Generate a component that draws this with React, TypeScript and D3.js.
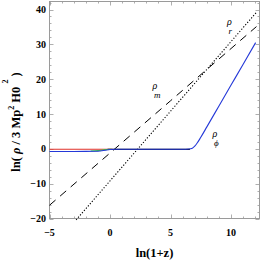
import React, { useEffect, useRef } from 'react';
import * as d3 from 'd3';

// values
const rhoRx = [-2.8, 0, 5, 10, 12.1];
const rhoRy = [-20.4, -9.2, 10.8, 30.8, 39.2];

const rhoMx = [-5, 0, 5, 10, 12.1];
const rhoMy = [-16.2, -1.2, 13.8, 28.8, 35.1];

const rhoPhiX = [-5, -3, -2, -1.2, -0.8, -0.4, 0, 0.5, 2, 4, 6, 6.5, 6.8, 7.0, 7.2, 7.5, 8, 9, 10, 11, 12.03];
const rhoPhiY = [-0.75, -0.75, -0.74, -0.7, -0.6, -0.4, -0.2, -0.12, -0.12, -0.12, -0.12, -0.05, 0.2, 0.77, 1.67, 3.33, 6.3, 12.3, 18.3, 24.3, 30.5];

const redX = [-5, 0.2];
const redY = [-0.12, -0.12];

const greenX = [-1.6, -1.0, -0.5, 0.1];
const greenY = [-0.62, -0.5, -0.3, -0.14];

const blackX = [-0.2, 6.6];
const blackY = [-0.14, -0.14];

const xTicks = [-5, 0, 5, 10];
const yTicks = [-20, -10, 0, 10, 20, 30, 40];

export default function App() {
  const svgRef = useRef<SVGSVGElement>(null);

  useEffect(() => {
    if (!svgRef.current) return;
    const svg = d3.select(svgRef.current);
    svg.selectAll('*').remove();

    const width = 263;
    const height = 263;
    const left = 49.5, right = 259.5, top = 1.5, bottom = 218.5;

    const x = d3.scaleLinear().domain([-5, 12.35]).range([left, right]);
    const y = d3.scaleLinear().domain([-20, 42.3]).range([bottom, top]);

    svg.attr('width', width).attr('height', height);
    svg.append('rect').attr('width', width).attr('height', height).attr('fill', '#fff');

    const font = '"Liberation Serif", "DejaVu Serif", serif';
    const frameColor = '#9a9a9a';

    // frame
    svg.append('rect')
      .attr('x', left).attr('y', top)
      .attr('width', right - left).attr('height', bottom - top)
      .attr('fill', 'none').attr('stroke', frameColor).attr('stroke-width', 1);

    // ticks on all four sides
    const ticks = svg.append('g').attr('stroke', frameColor).attr('stroke-width', 0.8);
    d3.range(-5, 13, 1).forEach((v) => {
      const len = v % 5 === 0 ? 4 : 2;
      const px = Math.round(x(v)) + 0.5;
      ticks.append('line').attr('x1', px).attr('x2', px).attr('y1', bottom).attr('y2', bottom - len);
      ticks.append('line').attr('x1', px).attr('x2', px).attr('y1', top).attr('y2', top + len);
    });
    d3.range(-20, 43, 2).forEach((v) => {
      const len = v % 10 === 0 ? 4 : 2;
      const py = Math.round(y(v)) + 0.5;
      ticks.append('line').attr('x1', left).attr('x2', left + len).attr('y1', py).attr('y2', py);
      ticks.append('line').attr('x1', right).attr('x2', right - len).attr('y1', py).attr('y2', py);
    });

    const fmt = (v: number) => (v < 0 ? '\u2212' + Math.abs(v) : String(v));

    svg.append('g').selectAll('text').data(xTicks).enter().append('text')
      .attr('x', (d) => x(d)).attr('y', 236)
      .attr('text-anchor', 'middle')
      .style('font-family', font).style('font-weight', 'bold').style('font-size', '10px')
      .text(fmt);

    svg.append('g').selectAll('text').data(yTicks).enter().append('text')
      .attr('x', 46).attr('y', (d) => y(d) + 3.5)
      .attr('text-anchor', 'end')
      .style('font-family', font).style('font-weight', 'bold').style('font-size', '10px')
      .text(fmt);

    // axis labels
    svg.append('text')
      .attr('x', 154.5).attr('y', 257)
      .attr('text-anchor', 'middle')
      .style('font-family', font).style('font-weight', 'bold').style('font-size', '12.5px')
      .text('ln(1+z)');

    const yl = svg.append('text')
      .attr('transform', 'translate(20,122) rotate(-90)')
      .attr('text-anchor', 'middle')
      .style('font-family', font).style('font-weight', 'bold').style('font-size', '12.5px');
    yl.append('tspan').text('ln( ');
    yl.append('tspan').style('font-style', 'italic').text('ρ');
    yl.append('tspan').text(' / 3 Mp');
    yl.append('tspan').attr('dy', -6).style('font-size', '8px').text('2');
    yl.append('tspan').attr('dy', 6).text(' H0 ');
    yl.append('tspan').attr('dy', -12).style('font-size', '8px').text('2');
    yl.append('tspan').attr('dy', 12).text(' )');

    const line = d3.line<[number, number]>()
      .x((d) => x(d[0]))
      .y((d) => y(d[1]))
      .curve(d3.curveMonotoneX);

    const zip = (xs: number[], ys: number[]) => xs.map((v, i) => [v, ys[i]] as [number, number]);

    const plot = svg.append('g');

    plot.append('path').attr('d', line(zip(rhoRx, rhoRy)))
      .attr('fill', 'none').attr('stroke', '#000').attr('stroke-width', 1.1)
      .attr('stroke-dasharray', '1.2,1.8');

    plot.append('path').attr('d', line(zip(rhoMx, rhoMy)))
      .attr('fill', 'none').attr('stroke', '#000').attr('stroke-width', 1)
      .attr('stroke-dasharray', '8,6');

    plot.append('path').attr('d', line(zip(redX, redY)))
      .attr('fill', 'none').attr('stroke', '#e0302a').attr('stroke-width', 1.1);

    plot.append('path').attr('d', line(zip(blackX, blackY)))
      .attr('fill', 'none').attr('stroke', '#111').attr('stroke-width', 1.2);

    plot.append('path').attr('d', line(zip(greenX, greenY)))
      .attr('fill', 'none').attr('stroke', '#3cc83c').attr('stroke-width', 1.1);

    plot.append('path').attr('d', line(zip(rhoPhiX, rhoPhiY)))
      .attr('fill', 'none').attr('stroke', '#2438d8').attr('stroke-width', 1.1);

    // curve labels: rho with its subscript set as a separate text below-right
    const label = (px: number, py: number, sub: string) => {
      svg.append('text')
        .attr('x', px).attr('y', py)
        .style('font-family', font).style('font-style', 'italic').style('font-size', '10px')
        .text('ρ');
      svg.append('text')
        .attr('x', px + 1.5).attr('y', py + 8.5)
        .style('font-family', font).style('font-style', 'italic').style('font-size', '9px')
        .text(sub);
    };
    label(152.5, 89, 'm');
    label(227, 25, 'r');
    label(212.5, 137, 'ϕ');
  }, []);

  return (
    <div style={{ position: 'absolute', left: 0, top: 0 }}>
      <svg ref={svgRef}></svg>
    </div>
  );
}
